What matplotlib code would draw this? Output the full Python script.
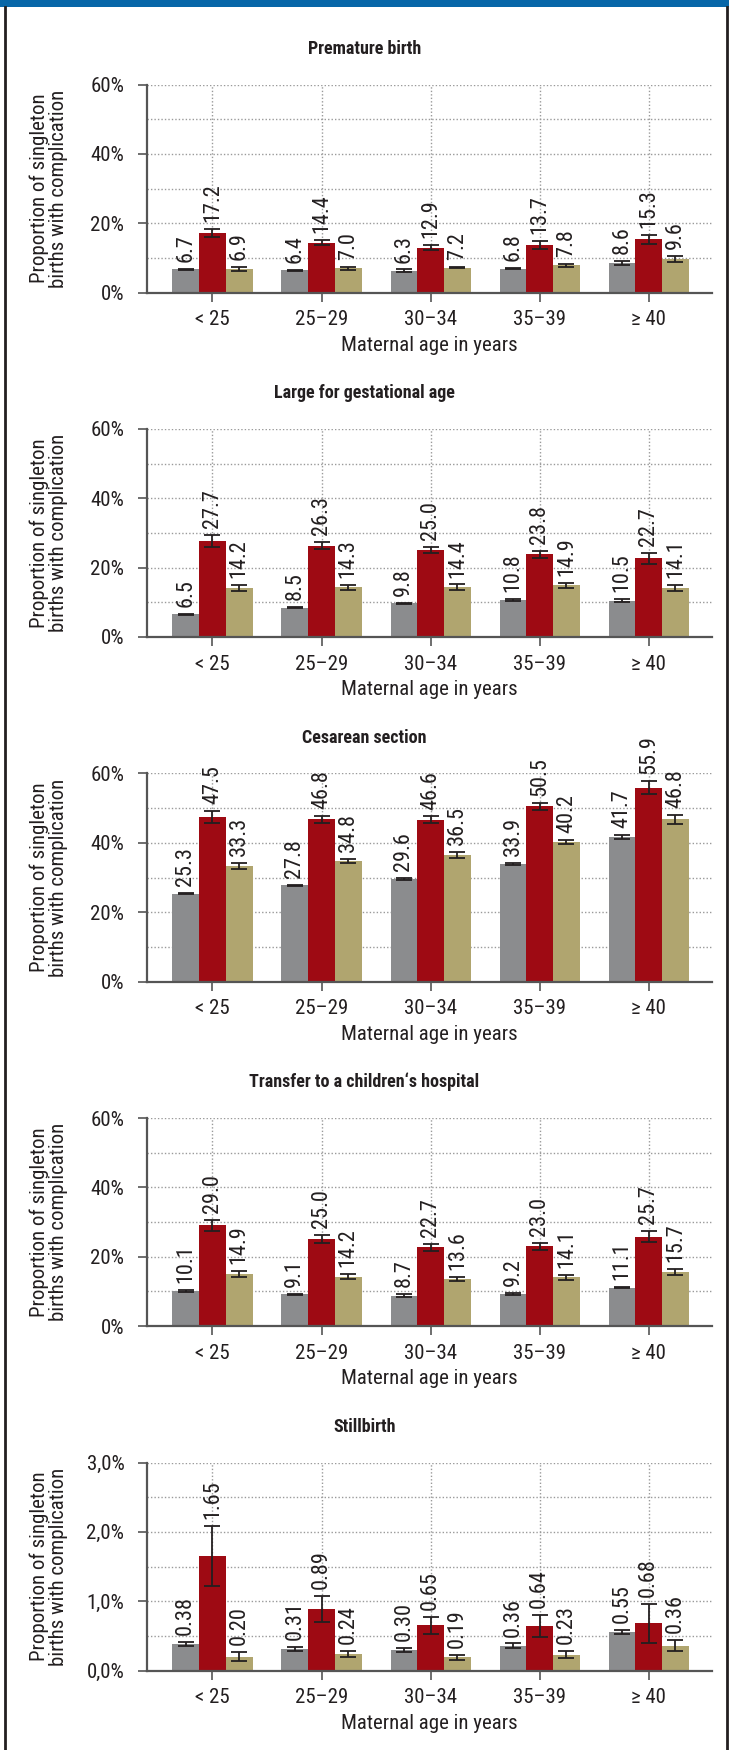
import matplotlib
matplotlib.use('Agg')
import matplotlib.pyplot as plt
from matplotlib import font_manager as fm
from matplotlib.lines import Line2D
from matplotlib.patches import Rectangle
from matplotlib.ticker import FuncFormatter, MultipleLocator
import numpy as np


def have_font(name):
    try:
        fm.findfont(fm.FontProperties(family=name), fallback_to_default=False)
        return True
    except ValueError:
        return False


# the original uses a condensed Helvetica/Arial; take a narrow face if there is one
narrow = next((f for f in ['Liberation Sans Narrow', 'Arial Narrow',
                           'Roboto Condensed', 'Open Sans Condensed']
               if have_font(f)), None)
if narrow:
    plt.rcParams['font.family'] = [narrow, 'Liberation Sans', 'DejaVu Sans']
    fs, fs_val, fs_title = 15, 16, 13
else:
    plt.rcParams['font.family'] = ['Liberation Sans', 'DejaVu Sans']
    fs, fs_val, fs_title = 13, 14, 12

age_groups = ['< 25', '25–29', '30–34', '35–39', '≥ 40']

# one entry per panel
titles = ['Premature birth', 'Large for gestational age', 'Cesarean section',
          'Transfer to a children\u2018s hospital', 'Stillbirth']

gray_vals = [[6.7, 6.4, 6.3, 6.8, 8.6],
             [6.5, 8.5, 9.8, 10.8, 10.5],
             [25.3, 27.8, 29.6, 33.9, 41.7],
             [10.1, 9.1, 8.7, 9.2, 11.1],
             [0.38, 0.31, 0.30, 0.36, 0.55]]
gray_err = [[0.2, 0.15, 0.35, 0.15, 0.6],
            [0.15, 0.2, 0.15, 0.3, 0.5],
            [0.2, 0.15, 0.25, 0.4, 0.55],
            [0.2, 0.25, 0.45, 0.2, 0.25],
            [0.03, 0.03, 0.03, 0.03, 0.03]]

red_vals = [[17.2, 14.4, 12.9, 13.7, 15.3],
            [27.7, 26.3, 25.0, 23.8, 22.7],
            [47.5, 46.8, 46.6, 50.5, 55.9],
            [29.0, 25.0, 22.7, 23.0, 25.7],
            [1.65, 0.89, 0.65, 0.64, 0.68]]
red_err = [[1.2, 0.8, 0.7, 1.05, 1.35],
           [1.7, 1.0, 0.9, 1.15, 1.6],
           [1.8, 1.05, 1.0, 1.05, 1.9],
           [1.7, 1.15, 0.95, 1.05, 1.6],
           [0.43, 0.185, 0.12, 0.16, 0.28]]

tan_vals = [[6.9, 7.0, 7.2, 7.8, 9.6],
            [14.2, 14.3, 14.4, 14.9, 14.1],
            [33.3, 34.8, 36.5, 40.2, 46.8],
            [14.9, 14.2, 13.6, 14.1, 15.7],
            [0.20, 0.24, 0.19, 0.23, 0.36]]
tan_err = [[0.6, 0.5, 0.15, 0.45, 0.85],
           [0.85, 0.65, 0.75, 0.65, 0.85],
           [0.85, 0.6, 0.85, 0.65, 1.25],
           [0.85, 0.75, 0.65, 0.75, 0.85],
           [0.07, 0.04, 0.035, 0.05, 0.077]]

y_max = [60, 60, 60, 60, 3.0]
y_step = [20, 20, 20, 20, 1.0]
label_fmt = ['%.1f', '%.1f', '%.1f', '%.1f', '%.2f']

colors = ['#8b8c8e', '#9e0a13', '#b0a56f']
dark = '#231f20'
spine_col = '#555555'

W, H = 729, 1750
fig = plt.figure(figsize=(W / 100, H / 100), dpi=100)

# frame: blue bar on top, thin dark lines left and right
fig.add_artist(Rectangle((0, 1 - 7 / H), 1, 7 / H, transform=fig.transFigure,
                         color='#0766a8', lw=0))
fig.add_artist(Line2D([4.7 / W] * 2, [0, 1 - 7 / H], transform=fig.transFigure,
                      color=dark, lw=2))
fig.add_artist(Line2D([726.5 / W] * 2, [0, 1 - 7 / H], transform=fig.transFigure,
                      color=dark, lw=2))

ax_left, ax_right = 147, 712
ax_h = 208
x = np.arange(len(age_groups))
bw = 0.245

for i in range(5):
    top = 84.5 + i * 344.5
    ax = fig.add_axes([ax_left / W, 1 - (top + ax_h) / H,
                       (ax_right - ax_left) / W, ax_h / H])

    series = [(gray_vals[i], gray_err[i]), (red_vals[i], red_err[i]),
              (tan_vals[i], tan_err[i])]
    for j, (vals, errs) in enumerate(series):
        xs = x + (j - 1) * bw
        ax.bar(xs, vals, width=bw, color=colors[j], zorder=2)
        ax.errorbar(xs, vals, yerr=errs, fmt='none', ecolor=dark,
                    elinewidth=1.3, capsize=5.5, capthick=1.3, zorder=3)
        for xv, v, e in zip(xs, vals, errs):
            ax.annotate(label_fmt[i] % v, (xv, v + e), xytext=(0, 5),
                        textcoords='offset points', rotation=90,
                        ha='center', va='bottom', fontsize=fs_val,
                        color=dark, annotation_clip=False)

    ax.set_xlim(-0.6, 4.58)
    ax.set_ylim(0, y_max[i])
    ax.set_xticks(x)
    ax.set_xticklabels(age_groups)
    ax.yaxis.set_major_locator(MultipleLocator(y_step[i]))
    ax.yaxis.set_minor_locator(MultipleLocator(y_step[i] / 2))
    if i < 4:
        ax.yaxis.set_major_formatter(FuncFormatter(lambda v, p: '%d%%' % round(v)))
    else:
        ax.yaxis.set_major_formatter(
            FuncFormatter(lambda v, p: ('%.1f%%' % v).replace('.', ',')))

    ax.grid(True, which='both', axis='y', color='#9a9a9a', lw=1.0,
            linestyle=(0, (1, 1.5)), zorder=0)
    ax.grid(True, which='major', axis='x', color='#9a9a9a', lw=1.0,
            linestyle=(0, (1, 1.5)), zorder=0)
    ax.set_axisbelow(True)

    for s in ('top', 'right'):
        ax.spines[s].set_visible(False)
    for s in ('left', 'bottom'):
        ax.spines[s].set_color(spine_col)
        ax.spines[s].set_linewidth(1.6)
        ax.spines[s].set_zorder(4)

    ax.tick_params(axis='y', which='major', direction='out', length=6.3,
                   width=1.2, color=spine_col, labelsize=fs, pad=10,
                   labelcolor=dark)
    ax.tick_params(axis='y', which='minor', length=0)
    ax.tick_params(axis='x', direction='out', length=6.3, width=1.2,
                   color=spine_col, labelsize=fs, pad=6.5, labelcolor=dark)

    ax.set_xlabel('Maternal age in years', fontsize=fs, color=dark, labelpad=4.5)
    ax.set_ylabel('Proportion of singleton\nbirths with complication',
                  fontsize=fs, color=dark, linespacing=1.0)
    ax.yaxis.set_label_coords(-0.14, 0.5)

    fig.text(0.5, 1 - (top - 36) / H, titles[i], ha='center', va='center',
             fontsize=fs_title, fontweight='bold', color=dark)

fig.savefig('out.png', dpi=100)
